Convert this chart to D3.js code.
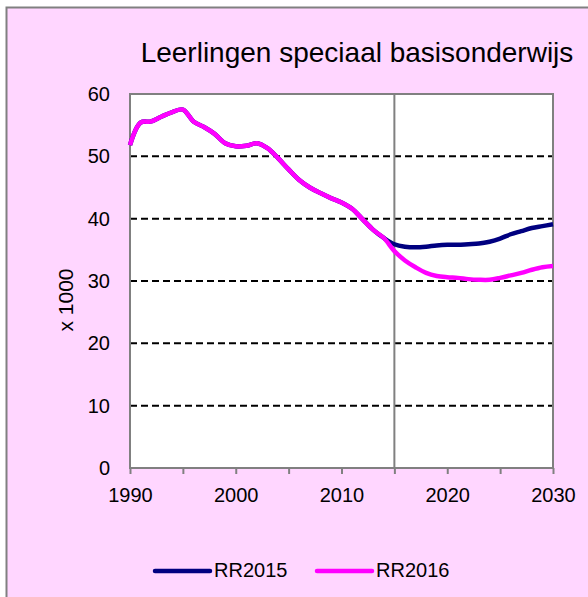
<!DOCTYPE html>
<html>
<head>
<meta charset="utf-8">
<script src="https://cdn.jsdelivr.net/npm/d3@7"></script>
<style>
  body { margin: 0; background: #fff; }
  text { font-family: "Liberation Sans", Arial, sans-serif; fill: #000; }
</style>
</head>
<body>
<script>
// chart data (x 1000 pupils)
const years = d3.range(1990, 2031);
const rr2016 = [51.8, 55.4, 55.6, 56.4, 57.1, 57.5, 55.6, 54.7, 53.6, 52.1,
  51.6, 51.7, 52.1, 51.3, 49.7, 47.9, 46.2, 45.0, 44.1, 43.3,
  42.6, 41.6, 39.9, 38.2, 36.9, 34.8, 33.3, 32.2, 31.3, 30.8,
  30.6, 30.5, 30.3, 30.2, 30.2, 30.5, 30.9, 31.3, 31.8, 32.2, 32.4];
const rr2015 = [51.8, 55.4, 55.6, 56.4, 57.1, 57.5, 55.6, 54.7, 53.6, 52.1,
  51.6, 51.7, 52.1, 51.3, 49.7, 47.9, 46.2, 45.0, 44.1, 43.3,
  42.6, 41.6, 39.9, 38.2, 36.9, 35.9, 35.5, 35.4, 35.5, 35.7,
  35.8, 35.8, 35.9, 36.0, 36.3, 36.8, 37.5, 38.0, 38.5, 38.8, 39.1];
const seriesNames = ["RR2015", "RR2016"];
const seriesColors = ["#000080", "#ff00ff"];
const yTicks = [0, 10, 20, 30, 40, 50, 60];
const xLabels = [1990, 2000, 2010, 2020, 2030];
const xMinor = d3.range(1990, 2031, 5);
const splitYear = 2015;

const W = 588, H = 597;
const plot = { left: 130, right: 553, top: 94, bottom: 468 };

const svg = d3.select("body").append("svg")
  .attr("width", W)
  .attr("height", H);

// pink chart area with grey frame (clipped at right/bottom)
svg.append("rect")
  .attr("x", 6.5).attr("y", 7.5)
  .attr("width", W).attr("height", H)
  .attr("fill", "#ffd6ff")
  .attr("stroke", "#808080")
  .attr("stroke-width", 2);

svg.append("text")
  .attr("x", 357).attr("y", 62)
  .attr("text-anchor", "middle")
  .style("font-size", "28px")
  .text("Leerlingen speciaal basisonderwijs");

const x = d3.scaleLinear().domain([1990, 2030]).range([plot.left, plot.right]);
const y = d3.scaleLinear().domain([0, 60]).range([plot.bottom, plot.top]);

svg.append("rect")
  .attr("x", plot.left).attr("y", plot.top)
  .attr("width", plot.right - plot.left)
  .attr("height", plot.bottom - plot.top)
  .attr("fill", "#fff");

// dashed gridlines
svg.append("g")
  .selectAll("line")
  .data(yTicks.filter(d => d > 0 && d < 60))
  .enter().append("line")
  .attr("x1", plot.left).attr("x2", plot.right)
  .attr("y1", d => y(d)).attr("y2", d => y(d))
  .attr("stroke", "#000")
  .attr("stroke-width", 2)
  .attr("stroke-dasharray", "7,4");

// vertical marker at start of forecast
svg.append("line")
  .attr("x1", x(splitYear)).attr("x2", x(splitYear))
  .attr("y1", plot.top).attr("y2", plot.bottom)
  .attr("stroke", "#808080")
  .attr("stroke-width", 2);

// plot frame
svg.append("rect")
  .attr("x", plot.left).attr("y", plot.top)
  .attr("width", plot.right - plot.left)
  .attr("height", plot.bottom - plot.top)
  .attr("fill", "none")
  .attr("stroke", "#808080")
  .attr("stroke-width", 2);

// x axis
const xAxis = svg.append("g")
  .attr("transform", `translate(0, ${plot.bottom})`)
  .call(d3.axisBottom(x).tickValues(xMinor).tickSize(6).tickFormat(d => xLabels.includes(d) ? d : ""));
xAxis.select(".domain").remove();
xAxis.selectAll(".tick line").attr("stroke", "#808080").attr("stroke-width", 2);
xAxis.selectAll("text")
  .style("font-size", "20px")
  .attr("dy", null)
  .attr("y", 34)
  .attr("font-family", null);

// y axis
const yAxis = svg.append("g")
  .attr("transform", `translate(${plot.left}, 0)`)
  .call(d3.axisLeft(y).tickValues(yTicks).tickSize(0).tickPadding(20));
yAxis.select(".domain").remove();
yAxis.selectAll("text")
  .style("font-size", "20px")
  .attr("font-family", null);

svg.append("text")
  .attr("transform", "translate(73, 300) rotate(-90)")
  .attr("text-anchor", "middle")
  .style("font-size", "21px")
  .text("x 1000");

// lines
const line = d3.line()
  .x((d, i) => x(years[i]))
  .y(d => y(d))
  .curve(d3.curveCatmullRom.alpha(0.5));

[rr2015, rr2016].forEach((s, k) => {
  svg.append("path")
    .datum(s)
    .attr("d", line)
    .attr("fill", "none")
    .attr("stroke", seriesColors[k])
    .attr("stroke-width", 4.5)
    .attr("stroke-linejoin", "round");
});

// legend
const legend = svg.append("g").attr("class", "legend");
const legX = [155, 317];
seriesNames.forEach((name, k) => {
  legend.append("line")
    .attr("x1", legX[k]).attr("x2", legX[k] + 55)
    .attr("y1", 571).attr("y2", 571)
    .attr("stroke", seriesColors[k])
    .attr("stroke-width", 4.5)
    .attr("stroke-linecap", "round");
  legend.append("text")
    .attr("x", legX[k] + 59).attr("y", 577)
    .style("font-size", "20px")
    .text(name);
});
</script>
</body>
</html>
